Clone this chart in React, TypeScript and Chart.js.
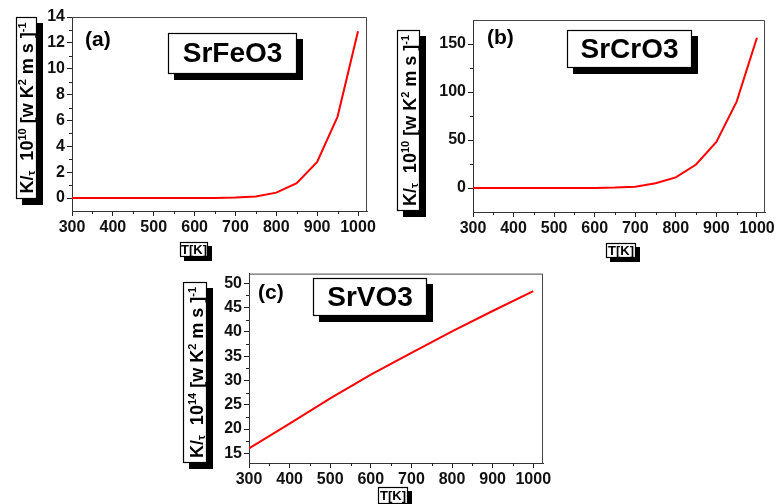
import { useEffect, useRef } from "react";
import { Chart, registerables } from "chart.js";

Chart.register(...registerables);

// Temperature grid (K)
const temperatures = [300, 350, 400, 450, 500, 550, 600, 650, 700, 750, 800, 850, 900, 950, 1000];
const temperaturesV = [300, 400, 500, 600, 700, 800, 900, 1000];

// K/τ values
const srFeO3 = [0, 0, 0, 0, 0, 0, 0, 0.01, 0.04, 0.13, 0.42, 1.15, 2.8, 6.3, 12.9]; // ×10^10
const srCrO3 = [0, 0, 0, 0, 0, 0, 0.1, 0.4, 1.4, 4.9, 11, 24.5, 48, 90, 156.5]; // ×10^10
const srVO3 = [16, 21.1, 26.3, 31.2, 35.7, 40.1, 44.3, 48.4]; // ×10^14

// Tick values
const xMajor = [300, 400, 500, 600, 700, 800, 900, 1000];
const xMinor = [350, 450, 550, 650, 750, 850, 950];
const yMajorA = [0, 2, 4, 6, 8, 10, 12, 14];
const yMinorA = [1, 3, 5, 7, 9, 11, 13];
const yMajorB = [0, 50, 100, 150];
const yMinorB = [25, 75, 125];
const yMajorC = [15, 20, 25, 30, 35, 40, 45, 50];
const yMinorC = [17.5, 22.5, 27.5, 32.5, 37.5, 42.5, 47.5];

const FONT = '"Liberation Sans", Arial, sans-serif';

type Box = [number, number, number, number];

type Panel = {
  id: string;
  left: number;
  top: number;
  width: number;
  height: number;
  area: { left: number; top: number; right: number; bottom: number };
  xs: number[];
  ys: number[];
  xRange: [number, number];
  yRange: [number, number];
  yMajor: number[];
  yMinor: number[];
  name: string;
  letter: string;
  exponent: string;
  yTitleBox: Box;
  nameBox: Box;
  letterPos: [number, number];
  unitBox: Box;
};

const panels: Panel[] = [
  {
    id: "a",
    left: 0, top: 0, width: 390, height: 265,
    area: { left: 72, top: 17, right: 367, bottom: 211 },
    xs: temperatures, ys: srFeO3,
    xRange: [300, 1022], yRange: [-1, 14],
    yMajor: yMajorA, yMinor: yMinorA,
    name: "SrFeO3", letter: "(a)", exponent: "10",
    yTitleBox: [16, 17, 21, 182],
    nameBox: [168, 33, 129, 41],
    letterPos: [85, 30],
    unitBox: [180, 242, 28, 15],
  },
  {
    id: "b",
    left: 390, top: 0, width: 387, height: 265,
    area: { left: 83, top: 20, right: 377, bottom: 212 },
    xs: temperatures, ys: srCrO3,
    xRange: [300, 1020], yRange: [-25, 175],
    yMajor: yMajorB, yMinor: yMinorB,
    name: "SrCrO3", letter: "(b)", exponent: "10",
    yTitleBox: [7, 30, 23, 181],
    nameBox: [177, 30, 125, 38],
    letterPos: [97, 28],
    unitBox: [216, 243, 30, 15],
  },
  {
    id: "c",
    left: 170, top: 262, width: 400, height: 242,
    area: { left: 79, top: 9, right: 373, bottom: 201 },
    xs: temperaturesV, ys: srVO3,
    xRange: [300, 1024], yRange: [13, 52],
    yMajor: yMajorC, yMinor: yMinorC,
    name: "SrVO3", letter: "(c)", exponent: "14",
    yTitleBox: [13, 20, 24, 181],
    nameBox: [143, 16, 114, 38],
    letterPos: [88, 21],
    unitBox: [208, 225, 30, 17],
  },
];

type Seg = { t: string; sup?: boolean; sub?: boolean };

function drawRich(ctx: CanvasRenderingContext2D, segs: Seg[], size: number) {
  const fontFor = (s: Seg) => `bold ${s.sup || s.sub ? Math.round(size * 0.62) : size}px ${FONT}`;
  let total = 0;
  const widths = segs.map((s) => {
    ctx.font = fontFor(s);
    const w = ctx.measureText(s.t).width;
    total += w;
    return w;
  });
  let x = -total / 2;
  ctx.textAlign = "left";
  ctx.textBaseline = "alphabetic";
  segs.forEach((s, i) => {
    ctx.font = fontFor(s);
    const dy = s.sup ? -size * 0.4 : s.sub ? size * 0.12 : 0;
    ctx.fillText(s.t, x, dy);
    x += widths[i];
  });
}

function shadowBox(ctx: CanvasRenderingContext2D, b: Box, off: number) {
  const [x, y, w, h] = b;
  ctx.fillStyle = "#000";
  ctx.fillRect(x + off, y + off, w, h);
  ctx.fillStyle = "#fff";
  ctx.fillRect(x, y, w, h);
  ctx.strokeStyle = "#000";
  ctx.lineWidth = 1.2;
  ctx.strokeRect(x + 0.5, y + 0.5, w - 1, h - 1);
}

const decorPlugin = {
  id: "panelDecor",
  afterDraw(chart: any, _args: any, opts: any) {
    const p: Panel = opts.panel;
    const ctx: CanvasRenderingContext2D = chart.ctx;
    const { left, top, right, bottom } = chart.chartArea;
    const xs = chart.scales.x;
    const ys = chart.scales.y;
    ctx.save();

    // top and right frame
    ctx.strokeStyle = "#444";
    ctx.lineWidth = 1;
    ctx.beginPath();
    ctx.moveTo(left, top + 0.5);
    ctx.lineTo(right - 0.5, top + 0.5);
    ctx.lineTo(right - 0.5, bottom);
    ctx.stroke();

    // minor ticks
    ctx.strokeStyle = "#222";
    ctx.beginPath();
    xMinor.forEach((v) => {
      const px = Math.round(xs.getPixelForValue(v)) + 0.5;
      ctx.moveTo(px, bottom);
      ctx.lineTo(px, bottom + 3);
    });
    p.yMinor.forEach((v) => {
      const py = Math.round(ys.getPixelForValue(v)) + 0.5;
      ctx.moveTo(left - 3, py);
      ctx.lineTo(left, py);
    });
    ctx.stroke();

    // y-axis title box
    shadowBox(ctx, p.yTitleBox, 6);
    const [bx, by, bw, bh] = p.yTitleBox;
    ctx.save();
    ctx.translate(bx + bw - 4, by + bh / 2);
    ctx.rotate(-Math.PI / 2);
    ctx.fillStyle = "#000";
    drawRich(
      ctx,
      [
        { t: "K/" },
        { t: "τ", sub: true },
        { t: "  10" },
        { t: p.exponent, sup: true },
        { t: " [w K" },
        { t: "2", sup: true },
        { t: " m s ]" },
        { t: "-1", sup: true },
      ],
      18
    );
    ctx.restore();

    // compound name box
    shadowBox(ctx, p.nameBox, 6);
    const [nx, ny, nw, nh] = p.nameBox;
    ctx.fillStyle = "#000";
    ctx.font = `bold 28px ${FONT}`;
    ctx.textAlign = "center";
    ctx.textBaseline = "middle";
    ctx.fillText(p.name, nx + nw / 2, ny + nh / 2 + 1);

    // panel letter
    ctx.font = `bold 21px ${FONT}`;
    ctx.textAlign = "left";
    ctx.textBaseline = "top";
    ctx.fillText(p.letter, p.letterPos[0], p.letterPos[1]);

    // x-axis unit box
    shadowBox(ctx, p.unitBox, 4);
    const [ux, uy, uw, uh] = p.unitBox;
    ctx.fillStyle = "#000";
    ctx.font = `bold 13px ${FONT}`;
    ctx.textAlign = "center";
    ctx.textBaseline = "middle";
    ctx.fillText("T[K]", ux + uw / 2, uy + uh / 2 + 1);

    ctx.restore();
  },
};

function PanelChart({ p }: { p: Panel }) {
  const ref = useRef<HTMLCanvasElement>(null);
  useEffect(() => {
    if (!ref.current) return;
    const tickFont = { family: FONT, size: 16, weight: "bold" as const };
    const plain = (v: any) => String(v);
    const chart = new Chart(ref.current, {
      type: "line",
      data: {
        datasets: [
          {
            data: p.xs.map((x, i) => ({ x, y: p.ys[i] })),
            borderColor: "#ff0000",
            borderWidth: 2,
            pointRadius: 0,
            tension: 0,
            fill: false,
          },
        ],
      },
      options: {
        responsive: false,
        animation: false,
        events: [],
        layout: {
          padding: { left: 0, top: p.area.top, right: p.width - p.area.right, bottom: 0 },
        },
        plugins: {
          legend: { display: false },
          tooltip: { enabled: false },
          panelDecor: { panel: p },
        } as any,
        scales: {
          x: {
            type: "linear",
            min: p.xRange[0],
            max: p.xRange[1],
            afterBuildTicks: (s: any) => {
              s.ticks = xMajor.map((value) => ({ value }));
            },
            afterFit: (s: any) => {
              s.height = p.height - p.area.bottom;
            },
            ticks: { font: tickFont, color: "#111", padding: 2, maxRotation: 0, autoSkip: false, callback: plain },
            grid: { drawOnChartArea: false, drawTicks: true, tickLength: 5, color: "#222" },
            border: { display: true, color: "#333", width: 1 },
          },
          y: {
            type: "linear",
            min: p.yRange[0],
            max: p.yRange[1],
            afterBuildTicks: (s: any) => {
              s.ticks = p.yMajor.map((value) => ({ value }));
            },
            afterFit: (s: any) => {
              s.width = p.area.left;
            },
            ticks: { font: tickFont, color: "#111", padding: 2, autoSkip: false, callback: plain },
            grid: { drawOnChartArea: false, drawTicks: true, tickLength: 5, color: "#222" },
            border: { display: true, color: "#333", width: 1 },
          },
        },
      },
      plugins: [decorPlugin],
    });
    return () => chart.destroy();
  }, [p]);
  return (
    <canvas
      ref={ref}
      width={p.width}
      height={p.height}
      style={{ position: "absolute", left: p.left, top: p.top, width: p.width, height: p.height }}
    />
  );
}

export default function App() {
  return (
    <div
      style={{
        position: "absolute",
        left: 0,
        top: 0,
        width: 777,
        height: 504,
        background: "#fff",
        overflow: "hidden",
      }}
    >
      {panels.map((p) => (
        <PanelChart key={p.id} p={p} />
      ))}
    </div>
  );
}
